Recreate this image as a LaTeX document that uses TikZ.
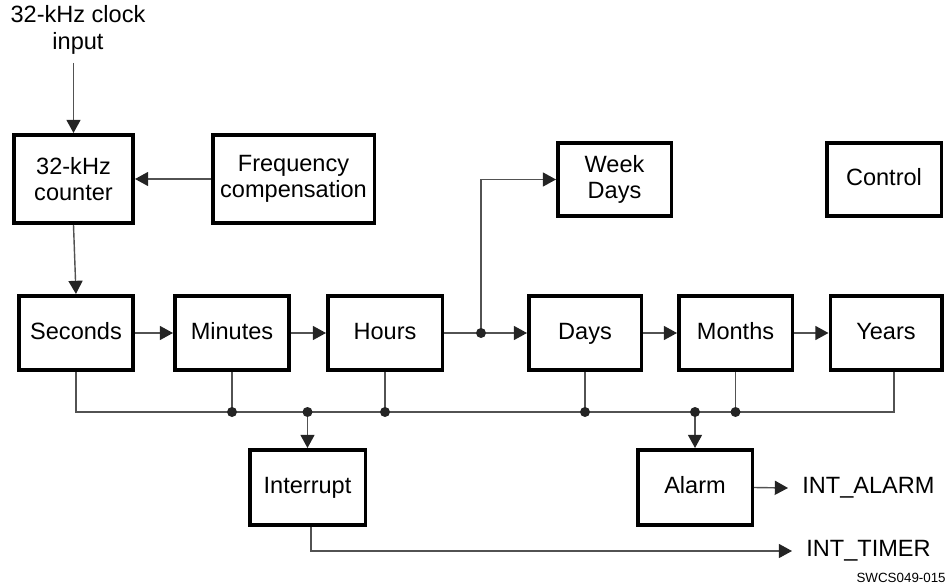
\documentclass[tikz,border=0pt]{standalone}
\usepackage{fontspec}
\setmainfont{Liberation Sans}
\usepackage{tikz}
\usetikzlibrary{arrows.meta,positioning}
\definecolor{wiregray}{gray}{0.32}
\definecolor{tipgray}{gray}{0.14}

\begin{document}
\begin{tikzpicture}[
scale=1,
font=\fontsize{13.4}{15}\selectfont,
block/.style={draw,line width=2pt,align=center,inner sep=0pt,minimum height=1.49cm},
oneline/.style={text height=0.72em,text depth=0pt},
link/.style={->,wiregray,line width=0.8pt,>={Triangle[length=7.5pt,width=8pt,color=tipgray]}},
wire/.style={wiregray,line width=0.8pt},
outlabel/.style={anchor=west,inner ysep=0pt,inner xsep=0.28cm}
]
    % Frame
    \useasboundingbox (0,0) rectangle (18.92,-11.76);

    % Top row
    \node (clk) [align=center] at (1.56,-0.6) {32-kHz clock\\input};
    \coordinate (clkin) at (1.47,-1.26);
    \node (cnt) [block, minimum width=2.39cm, minimum height=1.77cm] at (1.47,-3.58) {32-kHz\\counter};
    \node (freq) [block, minimum width=3.23cm, minimum height=1.77cm] at (5.87,-3.58) {Frequency\\compensation};
    \node (week) [block, minimum width=2.27cm, minimum height=1.47cm] at (12.29,-3.59) {Week\\Days};
    \node (ctrl) [block, oneline, minimum width=2.29cm, minimum height=1.47cm] at (17.68,-3.59) {Control};

    % Counter chain
    \node (sec) [block, oneline, minimum width=2.29cm] at (1.52,-6.66) {Seconds};
    \node (min) [block, oneline, minimum width=2.29cm] at (4.64,-6.66) {Minutes};
    \node (hrs) [block, oneline, minimum width=2.29cm] at (7.70,-6.66) {Hours};
    \node (days) [block, oneline, minimum width=2.25cm] at (11.70,-6.66) {Days};
    \node (mon) [block, oneline, minimum width=2.27cm] at (14.71,-6.66) {Months};
    \node (yrs) [block, oneline, minimum width=2.23cm] at (17.72,-6.66) {Years};

    % Outputs
    \node (intr) [block, oneline, minimum width=2.31cm, minimum height=1.51cm] at (6.15,-9.75) {Interrupt};
    \node (alarm) [block, oneline, minimum width=2.29cm, minimum height=1.51cm] at (13.90,-9.75) {Alarm};
    \node (intalarm) [outlabel] at (15.76,-9.76) {INT\_ALARM};
    \node (inttimer) [outlabel] at (15.84,-11.02) {INT\_TIMER};
    \node (fig) [anchor=east, inner sep=0pt, font=\fontsize{7.6}{9}\selectfont] at (18.92,-11.56) {SWCS049-015};

    \draw
    (9.62,-6.66) coordinate (split)
    (17.88,-8.24) coordinate (busR)
    ([xshift=0.07cm]intr.south) coordinate (intout);

    % Clock path
    \draw[link] (clkin) -- (cnt.north);
    \draw[link] (freq.west) -- (cnt.east);
    \draw[link] (cnt.south) -- (sec.north);
    \draw[link] (sec.east) -- (min.west);
    \draw[link] (min.east) -- (hrs.west);
    \draw[link] (hrs.east) -- (days.west);
    \draw[link] (split) |- (week.west);
    \draw[link] (days.east) -- (mon.west);
    \draw[link] (mon.east) -- (yrs.west);
    \fill[tipgray] (split) circle (0.1);

    % Bus
    \draw[wire] (sec.south) |- (busR) -- (busR |- yrs.south);
    \draw[wire] (min.south) -- (min.south |- busR);
    \draw[wire] (hrs.south) -- (hrs.south |- busR);
    \draw[wire] (days.south) -- (days.south |- busR);
    \draw[wire] (mon.south) -- (mon.south |- busR);
    \fill[tipgray] (min.south |- busR) circle (0.1);
    \fill[tipgray] (hrs.south |- busR) circle (0.1);
    \fill[tipgray] (days.south |- busR) circle (0.1);
    \fill[tipgray] (mon.south |- busR) circle (0.1);

    \draw[link] (intr.north |- busR) -- (intr.north);
    \draw[link] (alarm.north |- busR) -- (alarm.north);
    \fill[tipgray] (intr.north |- busR) circle (0.1);
    \fill[tipgray] (alarm.north |- busR) circle (0.1);

    \draw[link] (alarm.east) -- (intalarm.west);
    \draw[link] (intout) |- (inttimer.west);

\end{tikzpicture}
\end{document}
